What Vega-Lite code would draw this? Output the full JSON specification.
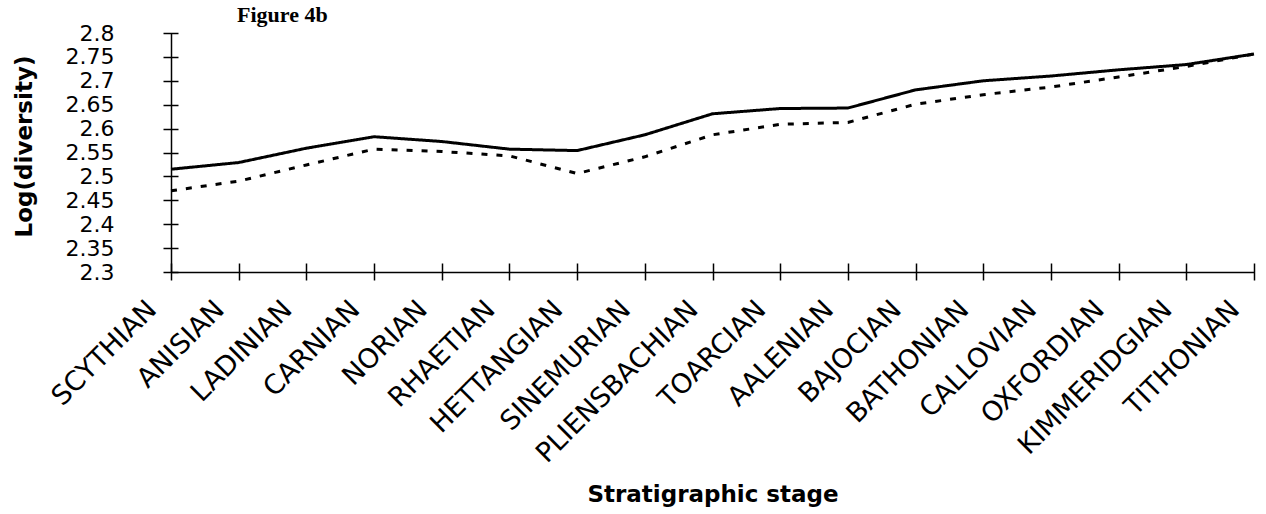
{
  "$schema": "https://vega.github.io/schema/vega-lite/v6.json",
  "width": 1083,
  "height": 239,
  "autosize": {"type": "none"},
  "padding": {"left": 171, "top": 33, "right": 12, "bottom": 242},
  "background": "white",
  "title": {
    "text": "Figure 4b",
    "anchor": "start",
    "frame": "group",
    "dx": 66,
    "dy": 28,
    "offset": 6,
    "font": "Liberation Serif",
    "fontSize": 22,
    "fontWeight": "bold",
    "color": "black",
    "baseline": "alphabetic"
  },
  "config": {
    "view": {"stroke": null},
    "axis": {"grid": false, "domainColor": "black", "tickColor": "black", "labelColor": "black", "titleColor": "black", "domainWidth": 1.5, "tickWidth": 1.5}
  },
  "data": {
    "values": [
      {"stage": "SCYTHIAN", "series": "solid", "value": 2.515},
      {"stage": "ANISIAN", "series": "solid", "value": 2.529},
      {"stage": "LADINIAN", "series": "solid", "value": 2.559},
      {"stage": "CARNIAN", "series": "solid", "value": 2.583},
      {"stage": "NORIAN", "series": "solid", "value": 2.573},
      {"stage": "RHAETIAN", "series": "solid", "value": 2.557},
      {"stage": "HETTANGIAN", "series": "solid", "value": 2.554},
      {"stage": "SINEMURIAN", "series": "solid", "value": 2.587},
      {"stage": "PLIENSBACHIAN", "series": "solid", "value": 2.631},
      {"stage": "TOARCIAN", "series": "solid", "value": 2.642},
      {"stage": "AALENIAN", "series": "solid", "value": 2.643},
      {"stage": "BAJOCIAN", "series": "solid", "value": 2.681},
      {"stage": "BATHONIAN", "series": "solid", "value": 2.700},
      {"stage": "CALLOVIAN", "series": "solid", "value": 2.710},
      {"stage": "OXFORDIAN", "series": "solid", "value": 2.723},
      {"stage": "KIMMERIDGIAN", "series": "solid", "value": 2.734},
      {"stage": "TITHONIAN", "series": "solid", "value": 2.756},
      {"stage": "SCYTHIAN", "series": "dashed", "value": 2.470},
      {"stage": "ANISIAN", "series": "dashed", "value": 2.490},
      {"stage": "LADINIAN", "series": "dashed", "value": 2.524},
      {"stage": "CARNIAN", "series": "dashed", "value": 2.557},
      {"stage": "NORIAN", "series": "dashed", "value": 2.552},
      {"stage": "RHAETIAN", "series": "dashed", "value": 2.543},
      {"stage": "HETTANGIAN", "series": "dashed", "value": 2.506},
      {"stage": "SINEMURIAN", "series": "dashed", "value": 2.541},
      {"stage": "PLIENSBACHIAN", "series": "dashed", "value": 2.587},
      {"stage": "TOARCIAN", "series": "dashed", "value": 2.609},
      {"stage": "AALENIAN", "series": "dashed", "value": 2.613},
      {"stage": "BAJOCIAN", "series": "dashed", "value": 2.651},
      {"stage": "BATHONIAN", "series": "dashed", "value": 2.671},
      {"stage": "CALLOVIAN", "series": "dashed", "value": 2.687},
      {"stage": "OXFORDIAN", "series": "dashed", "value": 2.708},
      {"stage": "KIMMERIDGIAN", "series": "dashed", "value": 2.730},
      {"stage": "TITHONIAN", "series": "dashed", "value": 2.756}
    ]
  },
  "layer": [
    {
      "mark": {"type": "line", "color": "black", "strokeWidth": 3},
      "encoding": {
        "x": {
          "field": "stage", "type": "ordinal", "sort": null,
          "scale": {"type": "point", "padding": 0},
          "axis": {
            "title": "Stratigraphic stage",
            "titleFont": "DejaVu Sans", "titleFontSize": 23, "titleFontWeight": "bold",
            "titleY": 229, "titleBaseline": "alphabetic",
            "labelAngle": -45, "labelAlign": "right", "labelBaseline": "middle",
            "labelFont": "DejaVu Sans", "labelFontSize": 27, "labelLimit": 500,
            "labelPadding": 33, "labelOffset": -19,
            "ticks": false, "labelOverlap": false
          }
        },
        "y": {
          "field": "value", "type": "quantitative",
          "scale": {"domain": [2.3, 2.8], "nice": false, "zero": false},
          "axis": {
            "title": "Log(diversity)",
            "titleFont": "DejaVu Sans", "titleFontSize": 23, "titleFontWeight": "bold",
            "titleX": -140, "titleY": 113, "titleBaseline": "alphabetic", "titleAngle": -90,
            "values": [2.3, 2.35, 2.4, 2.45, 2.5, 2.55, 2.6, 2.65, 2.7, 2.75, 2.8],
            "format": ".2~f",
            "labelFont": "DejaVu Sans", "labelFontSize": 22,
            "labelPadding": 57, "ticks": false, "labelOverlap": false
          }
        },
        "strokeDash": {
          "field": "series", "type": "nominal",
          "scale": {"domain": ["solid", "dashed"], "range": [[1, 0], [6, 9]]},
          "legend": null
        }
      }
    },
    {
      "mark": {"type": "line", "opacity": 0},
      "encoding": {
        "x": {
          "field": "stage", "type": "ordinal", "sort": null,
          "scale": {"type": "point", "padding": 0},
          "axis": {"orient": "bottom", "title": null, "labels": false, "domain": false, "tickSize": 17, "offset": -9}
        },
        "y": {
          "field": "value", "type": "quantitative",
          "scale": {"domain": [2.3, 2.8], "nice": false, "zero": false},
          "axis": {"orient": "left", "title": null, "labels": false, "domain": false, "tickSize": 15, "offset": -7,
            "values": [2.3, 2.35, 2.4, 2.45, 2.5, 2.55, 2.6, 2.65, 2.7, 2.75, 2.8]}
        },
        "detail": {"field": "series", "type": "nominal"}
      }
    }
  ],
  "resolve": {"axis": {"x": "independent", "y": "independent"}}
}
